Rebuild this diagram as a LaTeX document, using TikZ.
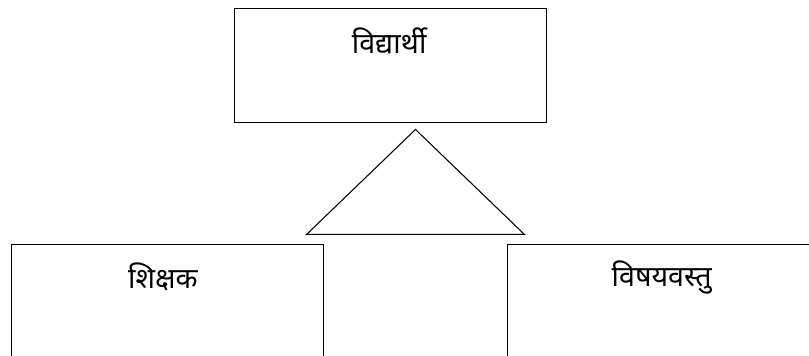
\documentclass[tikz,border=0pt]{standalone}
\usepackage{fontspec}
\newfontfamily\devfont[Script=Devanagari]{Noto Sans}
\usetikzlibrary{positioning}

\begin{document}
\begin{tikzpicture}[x=0.75pt, y=-0.75pt,
        % Style definitions
        block/.style={
            rectangle,
            draw=black,
            line width=0.95pt,
            minimum width=234pt,
            minimum height=85pt,
            inner sep=0pt,
            fill=white
        },
        lowblock/.style={
            block,
            minimum height=100pt
        },
        tag/.style={
            font=\devfont\fontsize{21.5}{25}\selectfont,
            inner sep=0pt
        },
        link/.style={
            line width=0.8pt,
            line join=miter
        }
    ]
        \useasboundingbox (0,0) rectangle (809,356);
        \clip (0,0) rectangle (809,356);

        % ==========================================
        % Nodes / Blocks Placement
        % ==========================================
        % Student block at the top
        \node (student) [block] at (390.5,65.5) {};

        % Teacher and content blocks below (run past the page edge)
        \node (teacher) [lowblock, anchor=north west] at (11,244) {};
        \node (content) [lowblock, anchor=north west] at (507,244) {};

        % Labels near the top of each block
        \node (student_lbl) [tag, xshift=-1pt] at ([yshift=-24.5pt]student.north) {विद्यार्थी};
        \node (teacher_lbl) [tag, xshift=-3.5pt] at ([yshift=-25pt]teacher.north) {शिक्षक};
        \node (content_lbl) [tag, xshift=-1.5pt] at ([yshift=-25pt]content.north) {विषयवस्तु};

        % ==========================================
        % Triangle between the blocks
        % ==========================================
        \coordinate (apex) at (415.5,129.5);
        \coordinate (base_left) at (306.7,234.3);
        \coordinate (base_right) at (524.3,234.3);

        \draw [link] (apex) -- (base_left) -- (base_right) -- cycle;

    \end{tikzpicture}
\end{document}
